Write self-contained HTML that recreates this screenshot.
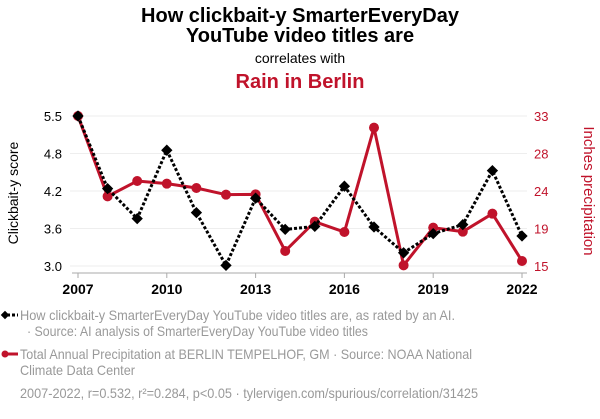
<!DOCTYPE html>
<html><head><meta charset="utf-8"><style>
body{margin:0;background:#fff;width:600px;height:414px;overflow:hidden;font-family:"Liberation Sans",sans-serif}
svg text{font-family:"Liberation Sans",sans-serif}
</style></head><body>
<svg id="chart" width="600" height="414">
<text x="300" y="22" text-anchor="middle" font-size="20" font-weight="bold" fill="#000">How clickbait-y SmarterEveryDay</text>
<text x="300" y="42" text-anchor="middle" font-size="20" font-weight="bold" fill="#000">YouTube video titles are</text>
<text x="300" y="63" text-anchor="middle" font-size="14" fill="#000">correlates with</text>
<text x="300" y="88" text-anchor="middle" font-size="20" font-weight="bold" fill="#c0132b">Rain in Berlin</text>
<text transform="translate(18,193) rotate(-90)" text-anchor="middle" font-size="14" fill="#000">Clickbait-y score</text>
<text transform="translate(584,191) rotate(90)" text-anchor="middle" font-size="15" fill="#c0132b">Inches precipitation</text>
<g id="grid"></g><g id="axes"></g><g id="series"></g>
<g font-size="14" fill="#999">
<line x1="2" y1="315" x2="18" y2="315" stroke="#000" stroke-width="3" stroke-dasharray="3,2"/>
<rect x="-3" y="-3" width="6" height="6" transform="translate(5,315) rotate(45)" fill="#000"/>
<text x="20" y="320" textLength="435" lengthAdjust="spacingAndGlyphs">How clickbait-y SmarterEveryDay YouTube video titles are, as rated by an AI.</text>
<text x="27" y="336" textLength="341" lengthAdjust="spacingAndGlyphs">· Source: AI analysis of SmarterEveryDay YouTube video titles</text>
<line x1="2" y1="354" x2="18" y2="354" stroke="#c0132b" stroke-width="3"/>
<circle cx="5" cy="354" r="3.5" fill="#c0132b"/>
<text x="20" y="359" textLength="452" lengthAdjust="spacingAndGlyphs">Total Annual Precipitation at BERLIN TEMPELHOF, GM · Source: NOAA National</text>
<text x="20" y="375" textLength="115" lengthAdjust="spacingAndGlyphs">Climate Data Center</text>
<text x="20" y="398" textLength="458" lengthAdjust="spacingAndGlyphs">2007-2022, r=0.532, r²=0.284, p&lt;0.05 · tylervigen.com/spurious/correlation/31425</text>
</g>
</svg>
<script>
const years=[2007,2008,2009,2010,2011,2012,2013,2014,2015,2016,2017,2018,2019,2020,2021,2022];
const clickbait=[5.5,4.29,3.79,4.93,3.89,3.01,4.13,3.61,3.66,4.33,3.65,3.22,3.54,3.69,4.59,3.5];
const rain=[33,23.36,25.2,24.88,24.36,23.56,23.6,16.8,20.32,19.08,31.6,15.08,19.6,19.12,21.28,15.6];
const leftTicks=[3.0,3.625,4.25,4.875,5.5];
const leftLabels=["3.0","3.6","4.2","4.8","5.5"];
const rightTicks=[15,19.5,24,28.5,33];
const rightLabels=["15","19","24","28","33"];
const xTicks=[2007,2010,2013,2016,2019,2022];
const ns="http://www.w3.org/2000/svg";
const X=v=>78+(v-2007)*(444/15);
const YL=v=>266-(v-3)*(150/2.5);
const YR=v=>266-(v-15)*(150/18);
function mk(t,a,p){const e=document.createElementNS(ns,t);for(const k in a)e.setAttribute(k,a[k]);p.appendChild(e);return e;}
const grid=document.getElementById('grid'),axes=document.getElementById('axes'),ser=document.getElementById('series');
leftTicks.forEach((t,i)=>{
 const g=mk('line',{x1:70,x2:527,y1:YL(t),y2:YL(t),stroke:'#eee'},grid);
 
 
 const l=mk('text',{x:62,y:YL(t)+5,'font-size':13,fill:'#000','text-anchor':'end'},axes);l.textContent=leftLabels[i];
 
 
});
rightTicks.forEach((t,i)=>{
 const l=mk('text',{x:534,y:YR(t)+5,'font-size':13,fill:'#c0132b'},axes);l.textContent=rightLabels[i];
 
 
});
mk('line',{x1:72,x2:527,y1:273,y2:273,stroke:'#aaa'},axes);
xTicks.forEach(t=>{
 mk('line',{x1:X(t),x2:X(t),y1:273,y2:278,stroke:'#aaa'},axes);
 const l=mk('text',{x:X(t),y:294,'font-size':14,'font-weight':'bold',fill:'#000','text-anchor':'middle'},axes);l.textContent=t;
 
 
});
const rl=mk('polyline',{points:years.map((y,i)=>X(y)+','+YR(rain[i])).join(' '),fill:'none',stroke:'#c0132b','stroke-width':3},ser);


years.forEach((y,i)=>{const c=mk('circle',{cx:X(y),cy:YR(rain[i]),r:5,fill:'#c0132b'},ser);
 
 });
const bl=mk('polyline',{points:years.map((y,i)=>X(y)+','+YL(clickbait[i])).join(' '),fill:'none',stroke:'#000','stroke-width':3,'stroke-dasharray':'3,2'},ser);


years.forEach((y,i)=>{const d=mk('rect',{x:-4,y:-4,width:8,height:8,fill:'#000',transform:`translate(${X(y)},${YL(clickbait[i])}) rotate(45)`},ser);
 
 });
</script>
</body></html>
